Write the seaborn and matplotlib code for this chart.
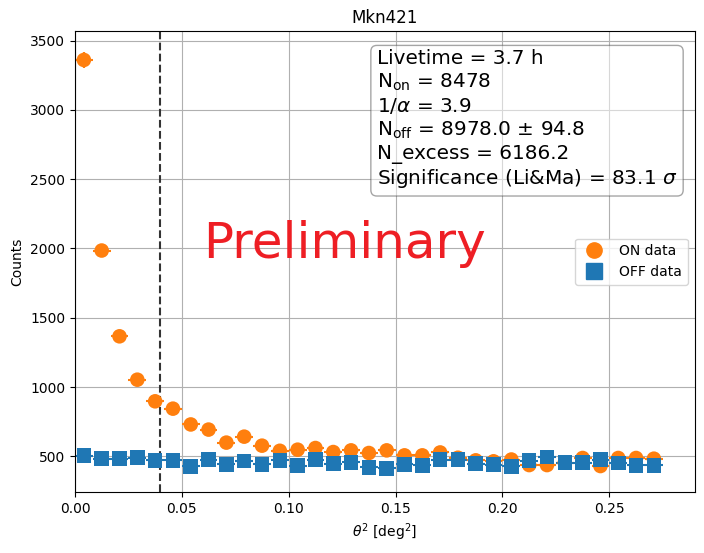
import numpy as np
import pandas as pd
import matplotlib
matplotlib.use("Agg")
import matplotlib.pyplot as plt
from matplotlib.lines import Line2D
import seaborn as sns

# ---- data ----
bin_edges = np.linspace(0.0, 0.275, 34)
theta2 = 0.5 * (bin_edges[:-1] + bin_edges[1:])
on_counts = [3360, 1985, 1366, 1053, 897, 844, 730, 693, 599, 642, 577, 540,
             548, 560, 531, 543, 524, 543, 507, 507, 528, 490, 471, 464,
             477, 437, 437, 455, 488, 430, 488, 488, 483]
off_counts = [505, 483, 483, 490, 471, 471, 428, 476, 442, 466, 442, 471,
              433, 476, 447, 457, 420, 413, 442, 435, 476, 476, 447, 440,
              428, 469, 495, 454, 454, 476, 452, 435, 435]
theta2_cut = 0.04
labels = ["ON data", "OFF data"]
stats_text = ("Livetime = 3.7 h\n"
              "N$_{\\rm on}$ = 8478\n"
              "$1/\\alpha$ = 3.9\n"
              "N$_{\\rm off}$ = 8978.0 ± 94.8\n"
              "N_excess = 6186.2\n"
              "Significance (Li&Ma) = 83.1 $\\sigma$")

on_color = "#ff7f0e"
off_color = "#1f77b4"

df = pd.DataFrame({
    "theta2": np.concatenate([theta2, theta2]),
    "counts": np.concatenate([on_counts, off_counts]),
    "dataset": [labels[0]] * len(theta2) + [labels[1]] * len(theta2),
})
df["err"] = np.sqrt(df["counts"])
half_w = 0.5 * (bin_edges[1] - bin_edges[0])

fig = plt.figure(figsize=(7.04, 5.53), dpi=100)
ax = fig.add_axes([0.1065, 0.110, 0.8805, 0.834])
ax.grid(True)
ax.set_axisbelow(True)

colors = {labels[0]: on_color, labels[1]: off_color}
for lab in labels:
    sub = df[df["dataset"] == lab]
    ax.errorbar(sub["theta2"], sub["counts"], yerr=sub["err"], xerr=half_w,
                fmt="none", ecolor=colors[lab], elinewidth=1.5, zorder=2)

sns.scatterplot(data=df, x="theta2", y="counts", hue="dataset", style="dataset",
                markers={labels[0]: "o", labels[1]: "s"}, palette=colors,
                s=110, linewidth=0, edgecolor="none", legend=False, ax=ax, zorder=3)

ax.axvline(theta2_cut, ls="--", color="#333333", lw=1.5, zorder=2.5)

ax.set_xlim(0, 0.29)
ax.set_title("Mkn421")
ax.set_xlabel(r"$\theta^2$ [deg$^2$]")
ax.set_ylabel("Counts")

handles = [Line2D([], [], marker="o", ls="none", color=on_color, markersize=11),
           Line2D([], [], marker="s", ls="none", color=off_color, markersize=11)]
ax.legend(handles, labels, loc="center right")

ax.text(0.1261, 1928, "Preliminary", color="#ee1e24", fontsize=36,
        ha="center", va="baseline", zorder=4)

ax.text(0.487, 0.960, stats_text, transform=ax.transAxes, fontsize="x-large",
        va="top", ha="left", zorder=5,
        bbox=dict(boxstyle="round", facecolor="white", edgecolor="0.3", alpha=0.5))

fig.savefig("out.png", dpi=100)
